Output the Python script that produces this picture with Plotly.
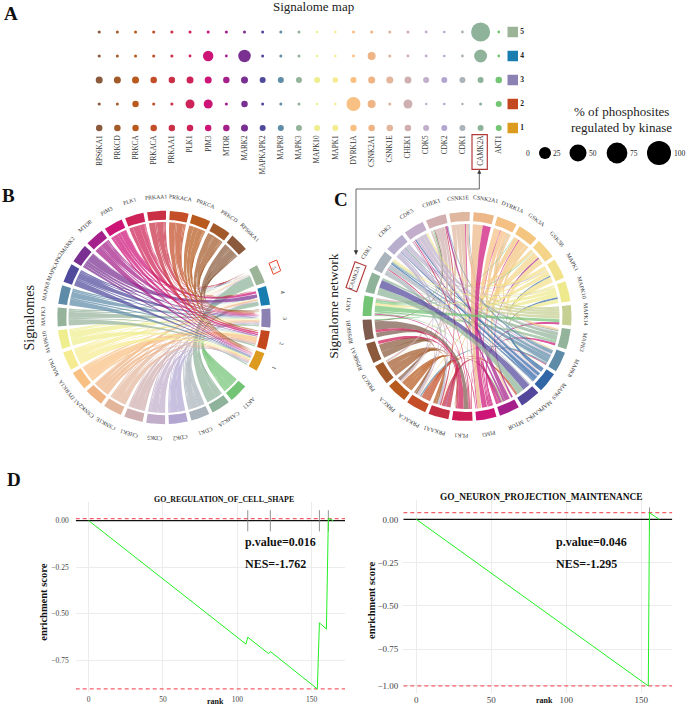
import math
import plotly.graph_objects as go

W, H = 687, 706
SERIF = "Liberation Serif"

# ---------- Panel A data ----------
KINASES = ["RPS6KA1","PRKCD","PRKCA","PRKACA","PRKAA1","PLK1","PIM3","MTOR","MARK2","MAPKAPK2","MAPK8","MAPK3",
           "MAPK10","MAPK1","DYRK1A","CSNK2A1","CSNK1E","CHEK1","CDK5","CDK2","CDK1","CAMK2A","AKT1"]
K_COLORS = ["#8B5A3C","#A35A2A","#B85A1E","#C44E27","#C92F45","#CE2358","#CD1578","#A5208A","#7A3090","#4F4A9C",
            "#5E8BA8","#95B39B","#EFEE8F","#F5EB90","#F8C183","#EFB384","#E3B59B","#D0AFB0","#C2AECB","#B3A7D2",
            "#A9B3BB","#8FB39A","#74C476"]
SIG5 = [1.6,1.6,1.6,1.6,1.6,1.6,1.6,1.6,1.6,1.6,1.6,1.6,1.1,1.1,1.6,1.6,1.6,1.6,1.4,1.1,1.4,63,1.4]
SIG4 = [1.6,1.6,1.6,1.6,1.6,1.4,19,1.4,27,1.6,1.6,1.6,1.1,1.1,1.4,11,1.6,1.4,1.4,1.1,1.4,29,1.4]
SIG3 = [8.5,8.5,8.5,7.3,7.3,8.5,8.5,7.3,8.5,6.3,6.3,6.3,6.3,5.3,6.3,8.5,8.5,8.5,6.3,6.3,6.3,6.3,7.3]
SIG2 = [1.6,1.6,7.3,1.6,1.6,14,14,1.6,7.3,1.6,1.6,1.6,1.1,1.1,34,11,1.6,14,1.1,1.1,1.1,1.6,6.3]
SIG1 = [7.3,7.3,7.3,7.3,7.3,7.3,7.3,7.3,8.5,6.3,6.3,6.3,6.3,6.3,7.3,7.3,7.3,7.3,6.3,6.3,6.3,6.3,6.3]
SIGNALOMES = ["5","4","3","2","1"]
SIG_COLORS = ["#9BB498","#1A7DB0","#8C81B3","#C3481F","#DC9A1E"]
SIZE_LEGEND = [0,25,50,75,100]
SIZE_REF = 200/576

# ---------- Panel C data ----------
NET_NAMES = ["CSNK2A1","DYRK1A","GSK3A","GSK3B","MAPK1","MAPK10","MAPK14","MAPK3","MAPK8","MAPK9","MAPKAPK2","MTOR",
             "PIM3","PLK1","PRKAA1","PRKACA","PRKCA","PRKCD","RPS6KA1","RPS6KB1","AKT1","CAMK2A","CDK1","CDK2","CDK5",
             "CHEK1","CSNK1E"]
NET_COLORS = ["#EDB788","#F5C083","#F3C57F","#F4D488","#F2E18B","#EFE98D","#C5CF92","#93B39A","#5E8BA7","#3166A6",
              "#52479B","#A5208A","#CD1578","#CC1B54","#C42E41","#C44E27","#B85A1E","#A35A2A","#8B5A3C","#7D5B4E",
              "#74C476","#8FB39A","#A9B3BB","#B8AFCF","#C2AECB","#D1AFB0","#DFB79E"]
NET_LINKS = [
 ("CSNK1E","PIM3",.20,.05),("CSNK1E","PLK1",.18,.02),
 ("CSNK1E","PRKCA",.18,.03),("CSNK1E","MAPK9",.12,.03),("PIM3","CSNK1E",.08,.04),("MAPK8","CSNK1E",.06,.03),
 ("DYRK1A","PIM3",.30,.05),("DYRK1A","MTOR",.22,.06),("DYRK1A","MAPK8",.15,.03),("PIM3","DYRK1A",.10,.03),
 ("MAPK3","DYRK1A",.07,.03),("GSK3A","MTOR",.30,.06),("GSK3A","PRKAA1",.20,.03),("GSK3A","MAPK3",.15,.03),
 ("PIM3","GSK3A",.13,.04),("AKT1","GSK3A",.05,.03),("GSK3B","MAPK8",.22,.03),("GSK3B","PRKACA",.25,.03),
 ("GSK3B","CDK1",.12,.03),("MTOR","GSK3B",.12,.05),("AKT1","GSK3B",.05,.03),("MAPK1","MAPK8",.28,.03),
 ("MAPK1","PRKCD",.20,.02),("MAPK1","CDK5",.18,.03),("CDK2","MAPK1",.12,.04),("MAPK9","MAPK1",.08,.05),
 ("MAPK10","RPS6KA1",.25,.02),("MAPK10","AKT1",.22,.05),("MAPK10","MAPK8",.18,.03),("CDK2","MAPK10",.10,.03),
 ("MAPK9","MAPK10",.12,.10),("MAPK14","CAMK2A",.20,.03),("MAPK14","CDK1",.20,.03),
 ("MAPK14","CDK2",.18,.03),("MAPK14","CDK5",.12,.03),("PIM3","MAPK14",.10,.12),("MAPK3","CDK1",.25,.04),
 ("MAPK3","CDK5",.18,.04),("MAPK3","AKT1",.12,.04),("PIM3","MAPK3",.10,.12),("DYRK1A","MAPK3",.10,.10),
 ("MAPK8","CDK1",.30,.05),("MAPK8","CDK2",.22,.05),("MAPK8","CHEK1",.18,.05),("PLK1","MAPK8",.05,.05),
 ("MAPK9","CDK2",.20,.05),("MAPK9","CDK5",.15,.08),("CDK2","MAPK9",.25,.05),("CDK5","MAPK9",.20,.05),
 ("CDK1","MAPK9",.15,.04),("MAPK10","MAPK9",.05,.03),
 ("PRKAA1","MAPKAPK2",.20,.03),("CDK1","MAPKAPK2",.10,.06),("PRKACA","MAPKAPK2",.08,.08),("MTOR","CHEK1",.35,.10),
 ("MTOR","CDK5",.15,.05),("AKT1","MTOR",.05,.05),("RPS6KA1","PRKACA",.30,.10),("RPS6KA1","PRKCA",.25,.10),
 ("PLK1","RPS6KA1",.12,.15),("RPS6KB1","PRKCA",.25,.10),
 ("PRKCD","PRKAA1",.30,.10),("PRKCD","PLK1",.30,.04),("CHEK1","PRKCD",.10,.10),("PRKCD","PRKACA",.20,.10),
 ("PRKCA","PRKAA1",.30,.15),("PRKCA","PLK1",.20,.03),("PRKCA","PIM3",.25,.03),("PRKACA","PLK1",.35,.04),
 ("PRKACA","MTOR",.15,.05),("CDK5","PRKACA",.10,.10),("MAPK8","PRKACA",.10,.10),("PRKAA1","PLK1",.25,.05),
 ("CDK2","PRKAA1",.10,.10),("RPS6KB1","CHEK1",.05,.08),("CHEK1","PRKCA",.30,.10),("CHEK1","PRKACA",.20,.08),
 ("PRKAA1","CHEK1",.08,.08),("AKT1","CHEK1",.10,.08),("CDK5","MAPK8",.28,.08),("CDK5","MAPK3",.20,.05),
 ("PLK1","CDK5",.08,.08),("MAPK10","CDK5",.10,.08),("PLK1","CDK1",.06,.06),("MAPK10","CDK1",.08,.08),
 ("MAPK9","CDK1",.08,.08),("CDK1","PRKAA1",.25,.04),("CDK2","PRKCA",.20,.03),("CHEK1","AKT1",.10,.10),
 ("MAPK1","AKT1",.08,.10),("PIM3","AKT1",.06,.08),("AKT1","RPS6KB1",.06,.05),("AKT1","MAPK3",.08,.05),
 ("CAMK2A","MAPK8",.12,.03),("MTOR","PRKAA1",.15,.04),("PIM3","MTOR",.06,.18),("PLK1","MTOR",.04,.06),
 ("CSNK2A1","PIM3",.55,.38),("RPS6KB1","PLK1",.45,.35),("PLK1","RPS6KB1",.42,.15),("PIM3","CSNK2A1",.45,.45),
 ("AKT1","MAPK14",.32,.20),("CAMK2A","MAPKAPK2",.40,.32),("MAPKAPK2","CAMK2A",.35,.42),
]

# ---------- Panel D data ----------
CELL_RANK = [0,105.8,107,120.9,122.4,153.8,155.2,159.9,161.2,164.5]
CELL_ES = [0,-.664,-.627,-.715,-.705,-.905,-.55,-.583,.012,0]
CELL_HITS = [107,122.2,155.2,161.2]
CELL_BOUNDS = [.011,-.905]
NEURON_RANK = [0,154.7,155.5,162]
NEURON_ES = [0,-.963,.0385,0]
NEURON_HITS = [155.5]
NEURON_BOUNDS = [.0385,-.963]


def rgba(h, a):
    return f"rgba({int(h[1:3],16)},{int(h[3:5],16)},{int(h[5:7],16)},{a})"

def dom_x(a, b):
    return [a/W, b/W]

def dom_y(top, bot):
    return [1-bot/H, 1-top/H]

fig = go.Figure()
anns, shapes = [], []

def page_text(x, y, text, size, angle=0, color="#111", bold=False, anchor="center"):
    anns.append(dict(xref="x9", yref="y9", x=x, y=y, text=f"<b>{text}</b>" if bold else text, showarrow=False,
                     textangle=angle, xanchor=anchor, yanchor="middle", font=dict(family=SERIF, size=size, color=color)))

# ---------- Panel A ----------
for vals, row in zip([SIG5, SIG4, SIG3, SIG2, SIG1], [5,4,3,2,1]):
    fig.add_trace(go.Scatter(x=list(range(len(KINASES))), y=[row]*len(KINASES), mode="markers", xaxis="x", yaxis="y",
                             marker=dict(size=vals, color=K_COLORS, sizemode="area", sizeref=SIZE_REF, sizemin=1.2,
                                         opacity=1, line_width=0),
                             showlegend=False))
fig.add_trace(go.Scatter(x=[22.77]*5, y=[5,4,3,2,1], mode="markers+text", xaxis="x", yaxis="y", text=SIGNALOMES,
                         textposition="middle right", textfont=dict(family=SERIF, size=7.5, color="#222"),
                         texttemplate="<b>%{text}</b>",
                         marker=dict(symbol="square", size=10.5, color=SIG_COLORS, opacity=1, line_width=0), showlegend=False))
# size legend
LEG_X = [521,545,578,617,659]
fig.add_trace(go.Scatter(x=LEG_X, y=[153]*5, mode="markers", xaxis="x9", yaxis="y9",
                         marker=dict(size=SIZE_LEGEND, color="#000", sizemode="area", sizeref=SIZE_REF, sizemin=1.2,
                                     opacity=1, line_width=0),
                         showlegend=False))
for lx, t in zip([528,557,593,634,680], SIZE_LEGEND):
    page_text(lx, 153, str(t), 7.5, color="#222")

# ---------- Chords ----------
def sector_table(names, spans, start):
    """spans: list of (width, gap after), clockwise degrees"""
    out, a = {}, start
    for n, (w, g) in zip(names, spans):
        out[n] = (a, a+w)
        a += w+g
    return out

def pt(deg, r):
    t = math.radians(deg)
    return r*math.cos(t), -r*math.sin(t)

def arc(a0, a1, r, n=14):
    return [pt(a0+(a1-a0)*i/n, r) for i in range(n+1)]

def bez(p0, p2, n=24):
    return [((1-t)**2*p0[0]+(t*t)*p2[0], (1-t)**2*p0[1]+(t*t)*p2[1]) for t in (i/n for i in range(1, n))]

def draw_chord(ax, ay, table, colors, links, r_out, r_in, r_rib, r_lab, font, alpha):
    ends = {n: [] for n in table}
    for i, (s, d, ws, wt) in enumerate(links):
        ends[s].append((i, 0, d, ws))
        ends[d].append((i, 1, s, wt))
    loc = {}
    for n, lst in ends.items():
        a0, a1 = table[n]
        mid = (a0+a1)/2
        tot = sum(e[3] for e in lst)
        lst.sort(key=lambda e: (-(((table[e[2]][0]+table[e[2]][1])/2-mid) % 360), e[0] if n < e[2] else -e[0]))
        cur = a0
        for e in lst:
            w = e[3]/tot*(a1-a0)
            loc[(e[0], e[1])] = (cur, cur+w)
            cur += w
    for i, (s, d, ws, wt) in enumerate(links):
        a = loc[(i, 0)]; b = loc[(i, 1)]
        pts = arc(a[0], a[1], r_rib, 6)
        pts += bez(pts[-1], pt(b[0], r_rib))
        pts += arc(b[0], b[1], r_rib, 6)
        pts += bez(pts[-1], pt(a[0], r_rib))
        pts.append(pts[0])
        fig.add_trace(go.Scatter(x=[p[0] for p in pts], y=[p[1] for p in pts], mode="lines", fill="toself",
                                 fillcolor=rgba(colors[s], alpha), line=dict(width=0), hoverinfo="skip",
                                 xaxis=ax, yaxis=ay, showlegend=False))
    for n, (a0, a1) in table.items():
        pts = arc(a0, a1, r_out)+arc(a1, a0, r_in)
        pts.append(pts[0])
        fig.add_trace(go.Scatter(x=[p[0] for p in pts], y=[p[1] for p in pts], mode="lines", fill="toself",
                                 fillcolor=colors[n], line=dict(width=0), hoverinfo="skip",
                                 xaxis=ax, yaxis=ay, showlegend=False))
        mid = (a0+a1)/2
        lx, ly = pt(mid, r_lab)
        rot = (mid+90) % 360
        if rot > 180:
            rot -= 360
        anns.append(dict(xref=ax, yref=ay, x=lx, y=ly, text=n, showarrow=False, textangle=rot,
                         font=dict(family=SERIF, size=font, color="#333")))

# panel B – kinase vs signalome, built from panel A values
b_names = KINASES[::-1]+SIGNALOMES
b_colors = dict(zip(KINASES, K_COLORS)) | dict(zip(SIGNALOMES, SIG_COLORS))
b_spans = [(10.25, 2)]*22+[(10.25, 10.5)]+[(10.25, 2)]*4+[(10.25, 10.5)]
b_table = sector_table(b_names, b_spans, 45.5-5.125)
b_links = []
sig_cols = dict(zip(SIGNALOMES, [SIG5, SIG4, SIG3, SIG2, SIG1]))
for k_i, k in reversed(list(enumerate(KINASES))):
    for s in SIGNALOMES:
        v = sig_cols[s][k_i]
        b_links.append((k, s, v, v))
draw_chord("x2", "y2", b_table, b_colors, b_links, 106.7, 97.7, 95.5, 121, 5.7, .72)

# panel C – kinase network
c_colors = dict(zip(NET_NAMES, NET_COLORS))
c_table = sector_table(NET_NAMES, [(11.33, 2)]*27, 279.3-5.66)
draw_chord("x3", "y3", c_table, c_colors, NET_LINKS, 104.5, 95.5, 92.5, 119, 5.8, .72)

# ---------- Panel D ----------
def enrich(ax, ay, rank, es, hits, bounds, hit_rng, xr):
    hx, hy = [], []
    for h in hits:
        hx += [h, h, None]
        hy += [hit_rng[0], hit_rng[1], None]
    fig.add_trace(go.Scatter(x=xr, y=[0, 0], mode="lines", line=dict(color="#111", width=1.3), xaxis=ax, yaxis=ay, showlegend=False))
    for b in bounds:
        fig.add_trace(go.Scatter(x=xr, y=[b, b], mode="lines", line=dict(color="#F4606A", width=1.2, dash="4px,3px"),
                                 xaxis=ax, yaxis=ay, showlegend=False))
    fig.add_trace(go.Scatter(x=hx, y=hy, mode="lines", line=dict(color="#777", width=.8), xaxis=ax, yaxis=ay, showlegend=False))
    fig.add_trace(go.Scatter(x=rank, y=es, mode="lines", line=dict(color="#22F022", width=1), xaxis=ax, yaxis=ay, showlegend=False))

X1R = [-8.7, 172.4]
X2R = [-8.67, 170.7]
enrich("x4", "y4", CELL_RANK, CELL_ES, CELL_HITS, CELL_BOUNDS, (.056, -.058), X1R)
enrich("x5", "y5", NEURON_RANK, NEURON_ES, NEURON_HITS, NEURON_BOUNDS, (.069, -.06), X2R)

# ---------- Text & decorations ----------
page_text(11, 13, "A", 19, bold=True)
page_text(8, 195, "B", 19, bold=True)
page_text(340.7, 199, "C", 19, bold=True)
page_text(13.5, 479, "D", 19, bold=True)
page_text(313, 6, "Signalome map", 13, color="#222")
page_text(621.7, 111, "% of phosphosites", 13, color="#222")
page_text(621.7, 127, "regulated by kinase", 13, color="#222")
page_text(29, 318.5, "Signalomes", 14, angle=-90, color="#222")
page_text(334, 305.8, "Signalome network", 13.5, angle=-90, color="#222")
page_text(224, 499, "GO_REGULATION_OF_CELL_SHAPE", 7.9, bold=True)
page_text(541, 496.7, "GO_NEURON_PROJECTION_MAINTENANCE", 9.4, bold=True)
page_text(243, 542, "p.value=0.016", 12, bold=True, anchor="left")
page_text(243, 564, "NES=-1.762", 12, bold=True, anchor="left")
page_text(554, 542, "p.value=0.046", 12, bold=True, anchor="left")
page_text(554, 564, "NES=-1.295", 12, bold=True, anchor="left")
page_text(44, 602.7, "enrichment score", 10.5, angle=-90, bold=True)
page_text(371, 601, "enrichment score", 10.5, angle=-90, bold=True)
page_text(215, 701, "rank", 8, bold=True)
page_text(544.3, 700, "rank", 8, bold=True)

def page_path(d, color, width=1, fill=None):
    shapes.append(dict(type="path", xref="x9", yref="y9", path=d, line=dict(color=color, width=width),
                       fillcolor=fill or "rgba(0,0,0,0)"))

page_path("M472,134.7 L487.3,134.7 L487.3,169.3 L472,169.3 Z", "#B23A3A", 1.2)
page_path("M479.3,189 L356,189 L356,252", "#555", .9)
page_path("M479.3,189 L479.3,172", "#555", .9)
page_path("M356,254.5 L354.2,250.5 L357.8,250.5 Z", "#333", .5, "#333")
page_path("M479.3,170 L477.7,173.5 L480.9,173.5 Z", "#333", .5, "#333")
page_path("M346,287.5 L355,261.7 L366,266 L356.7,291.7 Z", "#B23A3A", 1.1)
page_path("M269,263.3 L276.7,260 L280.7,270.7 L273.3,274.3 Z", "#E8442A", 1)

def tick_font(size=7.5):
    return dict(family=SERIF, size=size, color="#444")

GRID = "#ECECEC"
layout = dict(
    width=W, height=H, autosize=False, margin=dict(l=0, r=0, t=0, b=0), paper_bgcolor="white", plot_bgcolor="rgba(0,0,0,0)",
    showlegend=False, hovermode=False, annotations=anns, shapes=shapes,
    xaxis=dict(domain=dom_x(90, 530), range=[-.507, 23.72], tickmode="array", tickvals=list(range(len(KINASES))),
               ticktext=KINASES, tickangle=-90, showgrid=False, zeroline=False, showline=False, ticks="",
               tickfont=dict(family=SERIF, size=7.2, color="#333"), ticklabelstandoff=-3, anchor="y"),
    yaxis=dict(domain=dom_y(20, 136), range=[.667, 5.5], visible=False, anchor="x"),
    xaxis2=dict(domain=dom_x(14, 314), range=[-150, 150], visible=False, anchor="y2"),
    yaxis2=dict(domain=dom_y(167.5, 467.5), range=[-150, 150], visible=False, anchor="x2"),
    xaxis3=dict(domain=dom_x(342, 592), range=[-125, 125], visible=False, anchor="y3"),
    yaxis3=dict(domain=dom_y(191.5, 441.5), range=[-125, 125], visible=False, anchor="x3"),
    xaxis4=dict(domain=dom_x(75.7, 345), range=X1R, tickvals=[0, 50, 100, 150], gridcolor=GRID, zeroline=False, ticks="",
                tickfont=tick_font(), ticklabelstandoff=2, anchor="y4"),
    yaxis4=dict(domain=dom_y(502, 691.7), range=[-.92, .10], tickvals=[0, -.25, -.5, -.75], tickformat=".2f", gridcolor=GRID,
                zeroline=False, ticks="", tickfont=tick_font(), ticklabelstandoff=6, anchor="x4"),
    xaxis5=dict(domain=dom_x(403.3, 672.3), range=X2R, tickvals=[0, 50, 100, 150], gridcolor=GRID, zeroline=False, ticks="",
                tickfont=tick_font(9), anchor="y5"),
    yaxis5=dict(domain=dom_y(500, 692.7), range=[-1.002, .112], tickvals=[0, -.25, -.5, -.75, -.963],
                ticktext=["0.00", "\u22120.25", "\u22120.50", "\u22120.75", "\u22121.00"], gridcolor=GRID,
                zeroline=False, ticks="", tickfont=tick_font(9), ticklabelstandoff=4, anchor="x5"),
    xaxis9=dict(domain=[0, 1], range=[0, W], visible=False, anchor="y9"),
    yaxis9=dict(domain=[0, 1], range=[H, 0], visible=False, anchor="x9"),
)
fig.update_layout(**layout)
fig.write_html("out.html", config=dict(displayModeBar=False), post_script="document.body.style.margin='0';document.body.style.overflow='hidden';")
